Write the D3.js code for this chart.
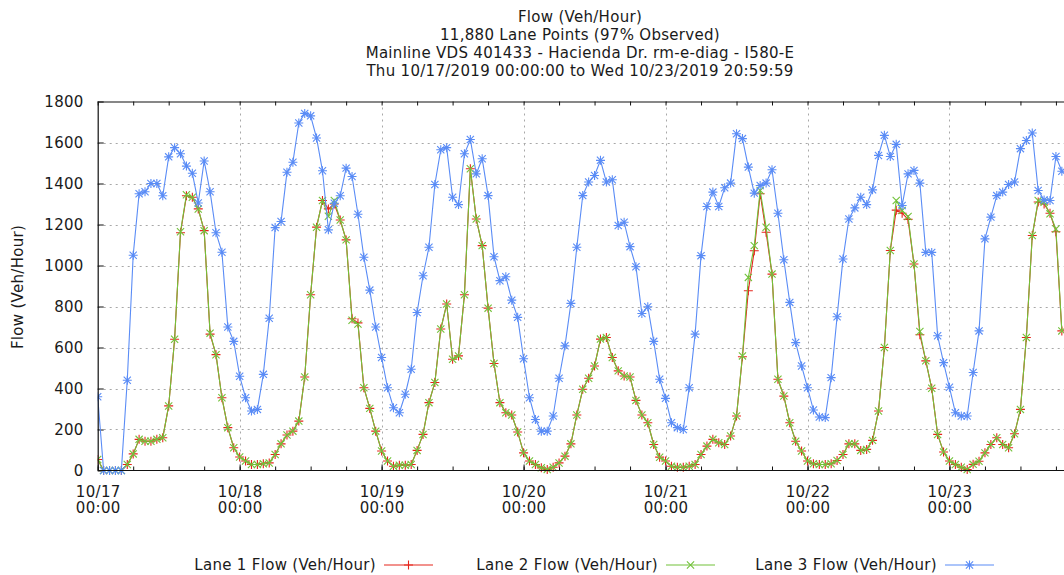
<!DOCTYPE html>
<html>
<head>
<meta charset="utf-8">
<script src="https://cdn.jsdelivr.net/npm/d3@7"></script>
<style>
  html, body { margin: 0; padding: 0; background: #fff; }
  svg { display: block; }
  text { font-family: "DejaVu Sans", sans-serif; fill: #1a1a1a; letter-spacing: 0.3px; }
</style>
</head>
<body>
<svg id="chart" width="1064" height="575"></svg>
<script>
// Hourly flow per lane, starting Thu 10/17/2019 00:00
const titleLines = [
  "Flow (Veh/Hour)",
  "11,880 Lane Points (97% Observed)",
  "Mainline VDS 401433 - Hacienda Dr. rm-e-diag - I580-E",
  "Thu 10/17/2019 00:00:00 to Wed 10/23/2019 20:59:59"
];
const yTicks = [0, 200, 400, 600, 800, 1000, 1200, 1400, 1600, 1800];
const seriesNames = ["Lane 1 Flow (Veh/Hour)", "Lane 2 Flow (Veh/Hour)", "Lane 3 Flow (Veh/Hour)"];

const lane1 = [
  54, 0, 0, 0, 0, 29, 81, 152, 143, 143, 152, 160, 315, 640, 1160, 1340, 1333, 1276, 1170, 665, 565, 355, 209, 111,
  66, 46, 29, 29, 33, 37, 78, 130, 173, 192, 241, 456, 857, 1187, 1317, 1276, 1300, 1222, 1125, 740, 720, 404, 303, 192,
  95, 46, 21, 26, 26, 29, 98, 176, 331, 429, 690, 812, 543, 559, 857, 1472, 1227, 1097, 792, 522, 331, 282, 271, 188,
  86, 46, 29, 13, 5, 16, 37, 70, 130, 271, 396, 450, 510, 641, 649, 551, 486, 461, 456, 342, 271, 233, 127, 65,
  46, 21, 16, 16, 21, 29, 78, 119, 152, 135, 127, 168, 266, 555, 877, 1072, 1350, 1162, 958, 445, 363, 233, 143, 95,
  46, 33, 29, 29, 33, 49, 78, 130, 130, 98, 103, 147, 290, 600, 1073, 1270, 1255, 1225, 1007, 662, 535, 401, 176, 90,
  46, 29, 16, 5, 30, 45, 86, 127, 160, 127, 111, 179, 298, 649, 1146, 1310, 1300, 1255, 1165, 681
];
const lane2 = [
  54, 0, 0, 0, 0, 29, 81, 152, 143, 143, 152, 160, 315, 640, 1165, 1345, 1333, 1276, 1170, 670, 565, 355, 209, 111,
  66, 46, 29, 29, 33, 37, 78, 130, 173, 192, 241, 456, 857, 1187, 1317, 1240, 1317, 1222, 1125, 733, 714, 404, 303, 192,
  95, 46, 21, 26, 26, 29, 98, 176, 331, 429, 690, 812, 543, 559, 857, 1472, 1227, 1097, 792, 522, 331, 282, 271, 188,
  86, 46, 29, 13, 5, 16, 37, 70, 130, 271, 396, 450, 510, 641, 649, 551, 486, 461, 456, 342, 271, 233, 127, 65,
  46, 21, 16, 16, 21, 29, 78, 119, 152, 135, 127, 168, 266, 559, 942, 1097, 1366, 1187, 958, 445, 363, 233, 143, 95,
  46, 33, 29, 29, 33, 49, 78, 130, 130, 98, 103, 147, 290, 600, 1073, 1317, 1268, 1239, 1007, 678, 535, 401, 176, 90,
  46, 29, 16, 5, 30, 45, 86, 127, 160, 127, 111, 179, 298, 649, 1146, 1317, 1309, 1252, 1178, 681
];
const lane3 = [
  360, 0, 0, 0, 0, 440, 1050, 1350, 1360, 1400, 1400, 1340, 1530, 1575, 1545, 1485, 1450, 1305, 1510, 1360, 1160, 1065, 700, 630,
  460, 355, 290, 298, 469, 743, 1185, 1215, 1455, 1504, 1695, 1742, 1730, 1622, 1462, 1174, 1304, 1340, 1475, 1434, 1250, 1040, 880, 700,
  551, 404, 306, 282, 372, 494, 771, 950, 1089, 1395, 1565, 1575, 1333, 1297, 1545, 1615, 1447, 1521, 1341, 1043, 926, 945, 831, 747,
  545, 355, 249, 192, 192, 266, 450, 608, 815, 1089, 1341, 1407, 1439, 1513, 1407, 1418, 1195, 1211, 1092, 994, 766, 799, 630, 445,
  352, 233, 209, 200, 404, 665, 1048, 1288, 1358, 1288, 1379, 1402, 1643, 1619, 1480, 1353, 1390, 1402, 1467, 1255, 1028, 820, 624, 510,
  404, 295, 261, 258, 453, 750, 1032, 1227, 1281, 1333, 1297, 1369, 1537, 1635, 1532, 1591, 1293, 1447, 1464, 1402, 1064, 1064, 657, 526,
  406, 282, 266, 266, 478, 681, 1130, 1236, 1341, 1358, 1395, 1407, 1570, 1610, 1646, 1366, 1320, 1317, 1532, 1460
];

const startTime = Date.UTC(2019, 9, 17, 0, 0, 0);
const endTime = Date.UTC(2019, 9, 24, 0, 0, 0);
const HOUR = 3600 * 1000;
const FONT = 15;

const svg = d3.select("#chart");
svg.append("rect").attr("width", 1064).attr("height", 575).attr("fill", "#fff");

const plot = { left: 97.7, top: 101.5, bottom: 470.5 };
plot.right = plot.left + 168 * 5.915;

const x = d3.scaleUtc().domain([new Date(startTime), new Date(endTime)]).range([plot.left, plot.right]);
const y = d3.scaleLinear().domain([0, 1800]).range([plot.bottom, plot.top]);

// Title block
svg.append("g").selectAll("text").data(titleLines).join("text")
  .attr("x", 580).attr("y", (d, i) => 22 + i * 18)
  .attr("text-anchor", "middle").attr("font-size", FONT)
  .text(d => d);

// Grid
const gridColor = "#a8a8a8";
const grid = svg.append("g");
grid.selectAll("line.h").data(yTicks.filter(v => v > 0 && v < 1800)).join("line")
  .attr("x1", plot.left).attr("x2", plot.right)
  .attr("y1", d => Math.round(y(d)) + 0.5).attr("y2", d => Math.round(y(d)) + 0.5)
  .attr("stroke", gridColor).attr("stroke-dasharray", "2,4");
const days = d3.utcDay.range(new Date(startTime + HOUR), new Date(endTime));
grid.selectAll("line.v").data(days).join("line")
  .attr("y1", plot.top).attr("y2", plot.bottom)
  .attr("x1", d => Math.round(x(d)) + 0.5).attr("x2", d => Math.round(x(d)) + 0.5)
  .attr("stroke", gridColor).attr("stroke-dasharray", "2,4");

// Axes (ticks pointing into the plot, mirrored on the top edge)
const yAxis = d3.axisLeft(y).tickValues(yTicks).tickFormat(d3.format("d"))
  .tickSizeInner(-6).tickSizeOuter(0).tickPadding(14);
const gy = svg.append("g").attr("transform", `translate(${plot.left},0)`).call(yAxis);
gy.select(".domain").remove();
gy.selectAll("line").attr("stroke", "#111");
gy.selectAll("text").attr("font-size", FONT).attr("fill", "#1a1a1a").attr("font-family", "DejaVu Sans, sans-serif");

const minor = d3.utcHour.every(6).range(new Date(startTime), new Date(endTime));
const xMinor = d3.axisBottom(x).tickValues(minor).tickSizeInner(-4).tickSizeOuter(0).tickFormat("");
const gxm = svg.append("g").attr("transform", `translate(0,${plot.bottom})`).call(xMinor);
gxm.select(".domain").remove();
gxm.selectAll("line").attr("stroke", "#111");
const xMinorTop = d3.axisTop(x).tickValues(minor).tickSizeInner(-4).tickSizeOuter(0).tickFormat("");
const gxt = svg.append("g").attr("transform", `translate(0,${plot.top})`).call(xMinorTop);
gxt.select(".domain").remove();
gxt.selectAll("line").attr("stroke", "#111");

const majorDays = d3.utcDay.range(new Date(startTime), new Date(endTime));
const xAxis = d3.axisBottom(x).tickValues(majorDays).tickSizeInner(-6).tickSizeOuter(0).tickFormat("");
const gx = svg.append("g").attr("transform", `translate(0,${plot.bottom})`).call(xAxis);
gx.select(".domain").remove();
gx.selectAll("line").attr("stroke", "#111");
const fmtDay = d3.utcFormat("%m/%d"), fmtTime = d3.utcFormat("%H:%M");
gx.selectAll(".tick").append("text")
  .attr("text-anchor", "middle").attr("font-size", FONT).attr("fill", "#1a1a1a")
  .attr("font-family", "DejaVu Sans, sans-serif")
  .each(function (d) {
    const t = d3.select(this);
    t.append("tspan").attr("x", 0).attr("y", 26).text(fmtDay(d));
    t.append("tspan").attr("x", 0).attr("y", 42).text(fmtTime(d));
  });

// Y axis title
svg.append("text")
  .attr("transform", "translate(23,287) rotate(-90)")
  .attr("text-anchor", "middle").attr("font-size", FONT)
  .text("Flow (Veh/Hour)");

// Series
svg.append("clipPath").attr("id", "plotClip").append("rect")
  .attr("x", plot.left).attr("y", plot.top - 6).attr("width", plot.right - plot.left).attr("height", plot.bottom - plot.top + 12);

const colors = ["#e5261c", "#72c23a", "#5a8cf6"];
const series = [lane1, lane2, lane3].map((vals, k) => ({
  name: seriesNames[k], color: colors[k], kind: k,
  points: vals.map((v, i) => ({ t: new Date(startTime + i * HOUR), v }))
}));

const s = 4.5;
function markerPath(kind, r) {
  const plus = `M${-r},0H${r}M0,${-r}V${r}`;
  const cross = `M${-r * 0.8},${-r * 0.8}L${r * 0.8},${r * 0.8}M${-r * 0.8},${r * 0.8}L${r * 0.8},${-r * 0.8}`;
  if (kind === 0) return plus;
  if (kind === 1) return cross;
  return plus + cross;
}

const line = d3.line().x(d => x(d.t)).y(d => y(d.v));
const gSeries = svg.append("g").attr("clip-path", "url(#plotClip)");
series.forEach(sr => {
  const g = gSeries.append("g");
  g.append("path").datum(sr.points).attr("d", line)
    .attr("fill", "none").attr("stroke", sr.color).attr("stroke-width", 1.1);
  g.selectAll("path.m").data(sr.points).join("path")
    .attr("transform", d => `translate(${x(d.t)},${y(d.v)})`)
    .attr("d", markerPath(sr.kind, s))
    .attr("fill", "none").attr("stroke", sr.color).attr("stroke-width", 1.1);
});

// Frame
svg.append("path")
  .attr("d", `M${plot.right},${plot.top + 0.5}H${plot.left + 0.5}V${plot.bottom}H${plot.right}`)
  .attr("fill", "none").attr("stroke", "#111").attr("stroke-width", 1.2);

// Legend
const legendItems = [
  { textEnd: 376, lineStart: 384 },
  { textEnd: 658, lineStart: 666 },
  { textEnd: 937, lineStart: 945 }
];
const gl = svg.append("g");
series.forEach((sr, k) => {
  const li = legendItems[k];
  gl.append("text").attr("x", li.textEnd).attr("y", 570)
    .attr("text-anchor", "end").attr("font-size", FONT).text(sr.name);
  gl.append("line").attr("x1", li.lineStart).attr("x2", li.lineStart + 49)
    .attr("y1", 565).attr("y2", 565).attr("stroke", sr.color).attr("stroke-width", 1.1);
  gl.append("path").attr("transform", `translate(${li.lineStart + 24.5},565)`)
    .attr("d", markerPath(sr.kind, s)).attr("fill", "none")
    .attr("stroke", sr.color).attr("stroke-width", 1.1);
});
</script>
</body>
</html>
